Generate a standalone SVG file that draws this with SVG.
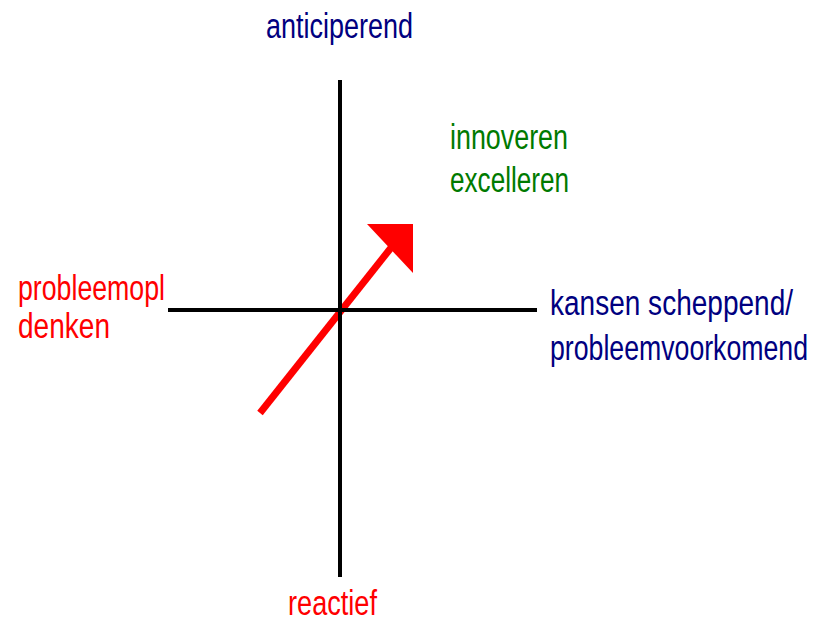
<svg xmlns="http://www.w3.org/2000/svg" width="820" height="623" viewBox="0 0 820 623">
<style>
text{font-family:"Liberation Sans",Arial,sans-serif;font-size:26px}
.navy{fill:#000080}
.green{fill:#007a00}
.red{fill:#ff0000}
.axis{stroke:#000;stroke-width:4;fill:none}
</style>
<rect width="820" height="623" fill="#fff"/>
<g id="connectors">
<line id="arrow-shaft" x1="260" y1="413" x2="394" y2="244" stroke="#ff0000" stroke-width="7"/>
<polygon id="arrow-head" points="367,224 413,224 413,273" fill="#ff0000"/>
<line class="axis" x1="340" y1="80" x2="340" y2="577"/>
<line class="axis" x1="168" y1="310" x2="537" y2="310"/>
</g>
<g id="node-top"><text class="navy" transform="translate(266,38) scale(1,1.35)" textLength="147" lengthAdjust="spacingAndGlyphs">anticiperend</text></g>
<g id="node-topright"><text class="green" transform="translate(450,149) scale(1,1.35)" textLength="118" lengthAdjust="spacingAndGlyphs">innoveren</text>
<text class="green" transform="translate(450,192) scale(1,1.35)" textLength="119" lengthAdjust="spacingAndGlyphs">excelleren</text></g>
<g id="node-left"><text class="red" transform="translate(18,300) scale(1,1.35)" textLength="147" lengthAdjust="spacingAndGlyphs">probleemopl</text>
<text class="red" transform="translate(18,338) scale(1,1.35)" textLength="92" lengthAdjust="spacingAndGlyphs">denken</text></g>
<g id="node-right"><text class="navy" transform="translate(550,315) scale(1,1.35)" textLength="243" lengthAdjust="spacingAndGlyphs">kansen scheppend/</text>
<text class="navy" transform="translate(550,360) scale(1,1.35)" textLength="258" lengthAdjust="spacingAndGlyphs">probleemvoorkomend</text></g>
<g id="node-bottom"><text class="red" transform="translate(288,615) scale(1,1.35)" textLength="89" lengthAdjust="spacingAndGlyphs">reactief</text></g>
</svg>
